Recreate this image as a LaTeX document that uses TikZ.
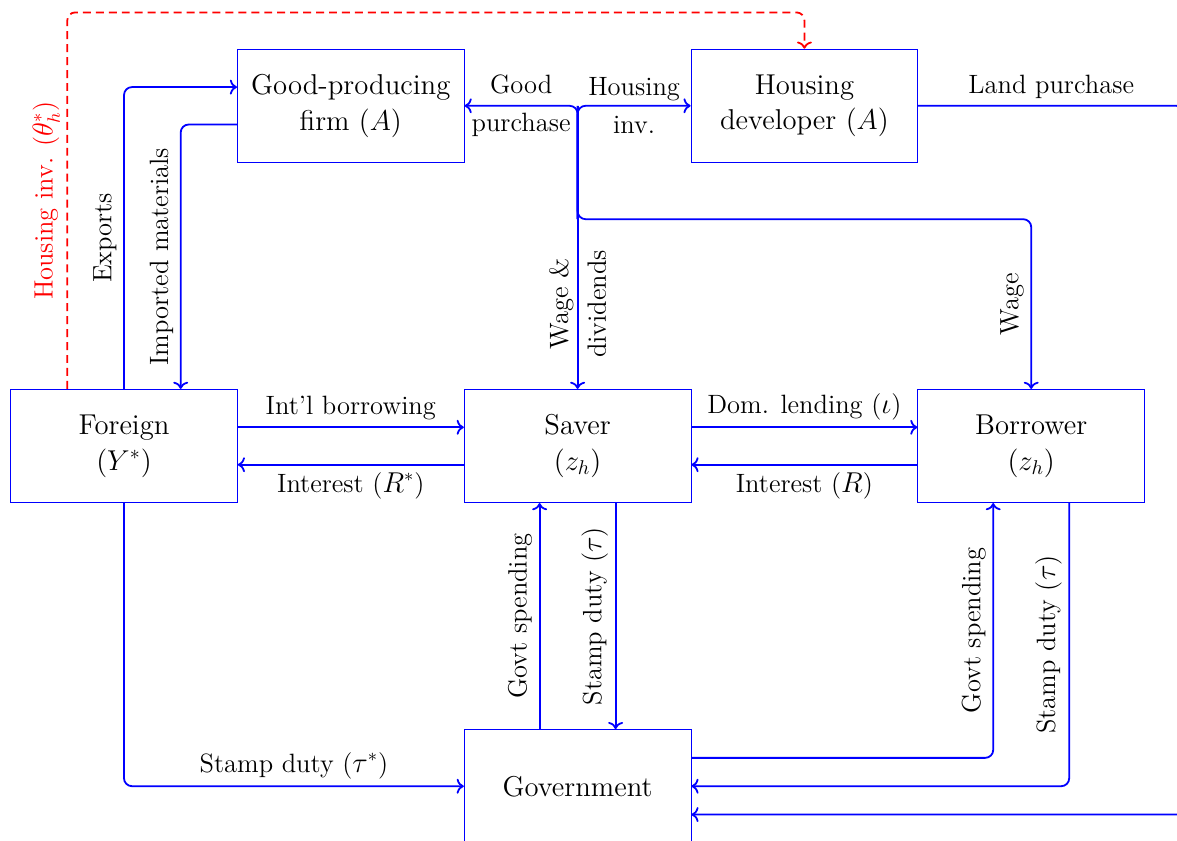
\documentclass[tikz,border=0pt]{standalone}
\usepackage{amsmath}
\usepackage{amssymb}
\usepackage{tikz}
\usetikzlibrary{arrows.meta}
\tikzset{
  sector/.style={draw=blue, rectangle, minimum width=4cm, minimum height=2cm, align=center, font=\Large},
  flow/.style={->, blue, line width=0.9pt, rounded corners},
  lbl/.style={text=black, font=\fontsize{13.3}{19}\selectfont},
}

\begin{document}
\begin{tikzpicture}
\useasboundingbox (-2.187,-6.966) rectangle (18.571,7.866);
\node[sector] (foreign) at (0,0) {Foreign\\($Y^*$)};
\node[sector] (saver) at (8,0) {Saver\\($z_h$)};
\node[sector] (borrower) at (16,0) {Borrower\\($z_h$)};
\node[sector] (firm) at (4,6) {Good-producing\\firm ($A$)};
\node[sector] (developer) at (12,6) {Housing\\developer ($A$)};
\node[sector] (govt) at (8,-6) {Government};
\coordinate (hub) at (8,6);
\coordinate (split) at (8,4);
\coordinate (edge) at (18.7,6);

\draw[->, red, line width=0.9pt, dash pattern=on 4pt off 2.5pt, rounded corners] ([xshift=-1cm]foreign.north) |- node[lbl, text=red, pos=0.25, rotate=90, anchor=south] {Housing inv. ($\theta_h^*$)} ([yshift=0.64cm]developer.north) -- (developer.north);
\draw[flow] (foreign.north) |- node[lbl, pos=0.25, rotate=90, anchor=south] {Exports} ([yshift=0.33cm]firm.west);
\draw[flow] ([yshift=-0.33cm]firm.west) -| node[lbl, pos=0.75, rotate=90, anchor=south] {Imported materials} ([xshift=1cm]foreign.north);

\draw[flow] (split) -- (hub) -- node[lbl, align=center] {Good\\purchase} (firm.east);
\draw[flow] (split) -- (hub) -- node[lbl, align=center] {Housing\\inv.} (developer.west);
\draw[flow] (hub) -- (split) -- node[lbl, align=center, rotate=90] {Wage \&\\dividends} (saver.north);
\draw[flow] (hub) -- (split) -| node[lbl, pos=0.75, rotate=90, anchor=south] {Wage} (borrower.north);
\draw[flow] (developer.east) -- node[lbl, above] {Land purchase} (edge) |- ([yshift=-0.5cm]govt.east);

\draw[flow] ([yshift=0.33cm]foreign.east) -- node[lbl, above] {Int'l borrowing} ([yshift=0.33cm]saver.west);
\draw[flow] ([yshift=-0.33cm]saver.west) -- node[lbl, below] {Interest ($R^*$)} ([yshift=-0.33cm]foreign.east);
\draw[flow] ([yshift=0.33cm]saver.east) -- node[lbl, above] {Dom. lending ($\iota$)} ([yshift=0.33cm]borrower.west);
\draw[flow] ([yshift=-0.33cm]borrower.west) -- node[lbl, below] {Interest ($R$)} ([yshift=-0.33cm]saver.east);

\draw[flow] ([xshift=-0.67cm]govt.north) -- node[lbl, rotate=90, anchor=south] {Govt spending} ([xshift=-0.67cm]saver.south);
\draw[flow] ([xshift=0.67cm]saver.south) -- node[lbl, rotate=90, anchor=south] {Stamp duty ($\tau$)} ([xshift=0.67cm]govt.north);
\draw[flow] ([yshift=0.5cm]govt.east) -| node[lbl, pos=0.75, rotate=90, anchor=south] {Govt spending} ([xshift=-0.67cm]borrower.south);
\draw[flow] ([xshift=0.67cm]borrower.south) |- node[lbl, pos=0.25, rotate=90, anchor=south] {Stamp duty ($\tau$)} (govt.east);
\draw[flow] (foreign.south) |- node[lbl, pos=0.75, above] {Stamp duty ($\tau^*$)} (govt.west);
\end{tikzpicture}
\end{document}
